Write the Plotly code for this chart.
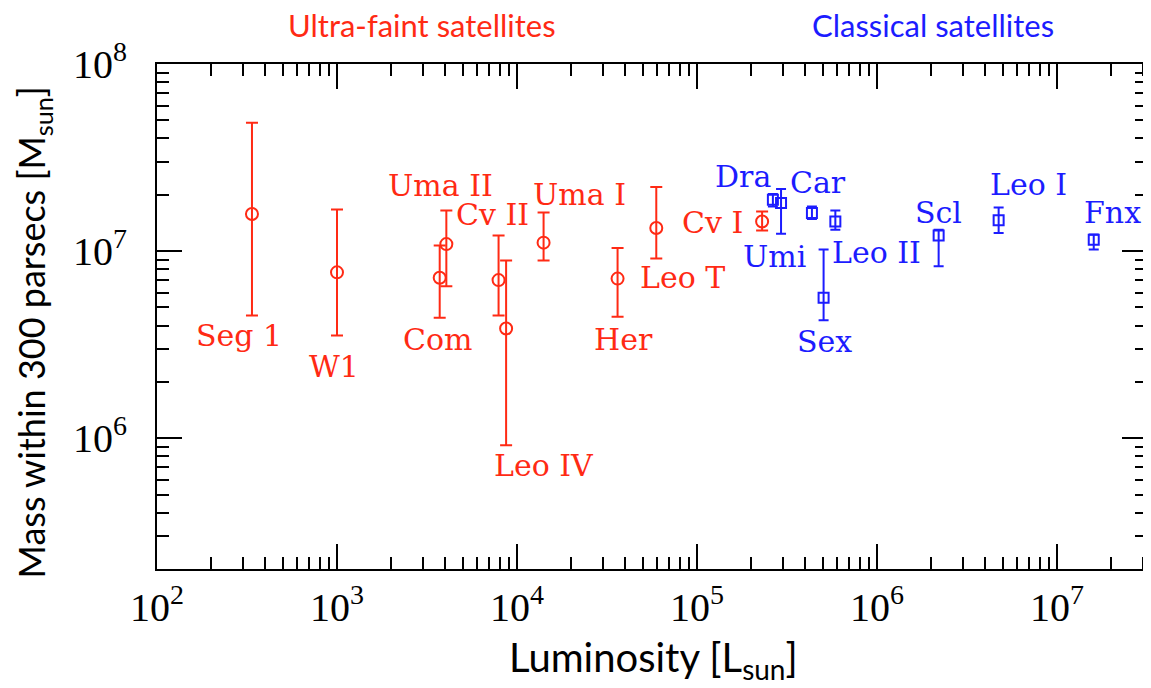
import math
import plotly.graph_objects as go

# Ultra-faint satellites
uf_names = ["Seg 1", "W1", "Com", "Uma II", "Cv II", "Leo IV", "Uma I", "Her", "Leo T", "Cv I"]
uf_lum = [337, 1000, 3720, 4050, 7900, 8700, 14050, 36200, 59400, 230000]
uf_mass = [1.58e7, 7.7e6, 7.2e6, 1.09e7, 7.0e6, 3.86e6, 1.11e7, 7.13e6, 1.33e7, 1.44e7]
uf_mass_hi = [4.86e7, 1.67e7, 1.07e7, 1.65e7, 1.21e7, 8.9e6, 1.61e7, 1.04e7, 2.2e7, 1.63e7]
uf_mass_lo = [4.53e6, 3.54e6, 4.4e6, 6.49e6, 4.53e6, 9.18e5, 8.9e6, 4.46e6, 9.12e6, 1.29e7]

# Classical satellites
cl_names = ["Dra", "Umi", "Car", "Sex", "Leo II", "Scl", "Leo I", "Fnx"]
cl_lum = [2.64e5, 2.93e5, 4.35e5, 5.05e5, 5.87e5, 2.2e6, 4.74e6, 1.6e7]
cl_mass = [1.88e7, 1.81e7, 1.60e7, 5.63e6, 1.44e7, 1.21e7, 1.46e7, 1.15e7]
cl_mass_hi = [2.02e7, 2.15e7, 1.73e7, 1.02e7, 1.65e7, 1.30e7, 1.71e7, 1.225e7]
cl_mass_lo = [1.73e7, 1.24e7, 1.485e7, 4.27e6, 1.30e7, 8.3e6, 1.25e7, 1.02e7]

# label offsets in pixels (dx, dy) relative to each point
uf_offsets = [(-13, -122), (-3, -94), (-2, -62), (-6, 59), (-6, 66), (38, -137),
              (36, 48), (6, -61), (26, -50), (-50, -1)]
cl_offsets = [(-30, 23), (-7, -54), (6, 30), (1, -44), (41, -31), (0, 23), (30, 36), (19, 27)]

RED = "#ff2a14"
BLUE = "#1c1cff"
LABEL_FONT = "DejaVu Serif"
SANS = "Lato"

fig = go.Figure()

fig.add_trace(go.Scatter(
    x=uf_lum, y=uf_mass, mode="markers",
    marker=dict(symbol="circle-open", size=12, color=RED, line=dict(width=2, color=RED)),
    error_y=dict(type="data", symmetric=False,
                 array=[h - m for h, m in zip(uf_mass_hi, uf_mass)],
                 arrayminus=[m - l for m, l in zip(uf_mass, uf_mass_lo)],
                 color=RED, thickness=2, width=6),
    showlegend=False,
))
fig.add_trace(go.Scatter(
    x=cl_lum, y=cl_mass, mode="markers",
    marker=dict(symbol="square-open", size=10, color=BLUE, line=dict(width=2, color=BLUE)),
    error_y=dict(type="data", symmetric=False,
                 array=[h - m for h, m in zip(cl_mass_hi, cl_mass)],
                 arrayminus=[m - l for m, l in zip(cl_mass, cl_mass_lo)],
                 color=BLUE, thickness=2, width=5),
    showlegend=False,
))

annotations = []
for names, lums, masses, offs, col in [
    (uf_names, uf_lum, uf_mass, uf_offsets, RED),
    (cl_names, cl_lum, cl_mass, cl_offsets, BLUE),
]:
    for name, lum, mass, (dx, dy) in zip(names, lums, masses, offs):
        annotations.append(dict(
            x=math.log10(lum), y=math.log10(mass), xref="x", yref="y",
            text=name, showarrow=False, xshift=dx, yshift=dy,
            xanchor="center", yanchor="middle",
            font=dict(family=LABEL_FONT, size=30, color=col),
        ))

annotations.append(dict(text="Ultra-faint satellites", xref="paper", yref="paper",
                        x=0.268, y=1.077, xanchor="center", yanchor="middle",
                        showarrow=False, font=dict(family=SANS, size=31, color=RED)))
annotations.append(dict(text="Classical satellites", xref="paper", yref="paper",
                        x=0.784, y=1.077, xanchor="center", yanchor="middle",
                        showarrow=False, font=dict(family=SANS, size=31, color=BLUE)))

# axis titles
annotations.append(dict(text="Luminosity [L<sub>sun</sub>]", xref="paper", yref="paper",
                        x=0.502, y=-0.18, xanchor="center", yanchor="middle",
                        showarrow=False, font=dict(family=SANS, size=40, color="black")))
annotations.append(dict(text="Mass within 300 parsecs [M<sub>sun</sub>]",
                        xref="paper", yref="paper", textangle=-90,
                        x=-0.125, y=0.469, xanchor="center", yanchor="middle",
                        showarrow=False, font=dict(family=SANS, size=36, color="black")))

minor_x = [m * 10 ** e for e in range(2, 8) for m in range(2, 10)]
minor_y = [m * 10 ** e for e in range(5, 8) for m in range(2, 10)]

axis_common = dict(
    type="log", showgrid=False, zeroline=False, automargin=False,
    showline=True, linewidth=2, linecolor="black", mirror="ticks",
    ticks="inside", ticklen=25, tickwidth=2, tickcolor="black",
    tickfont=dict(family="Liberation Serif", size=40, color="black"),
)

fig.update_xaxes(
    **axis_common,
    range=[2, 7.5],
    ticklabelstandoff=2,
    tickvals=[1e2, 1e3, 1e4, 1e5, 1e6, 1e7],
    ticktext=["10<sup>2</sup>", "10<sup>3</sup>", "10<sup>4</sup>",
              "10<sup>5</sup>", "10<sup>6</sup>", "10<sup>7</sup>"],
    minor=dict(tickvals=minor_x, ticks="inside", ticklen=12, tickwidth=2,
               tickcolor="black", showgrid=False),
)
fig.update_yaxes(
    **axis_common,
    range=[math.log10(2e5), 8],
    ticklabelstandoff=20,
    tickvals=[1e6, 1e7, 1e8],
    ticktext=["10<sup>6</sup>", "10<sup>7</sup>", "10<sup>8</sup>"],
    minor=dict(tickvals=minor_y, ticks="inside", ticklen=12, tickwidth=2,
               tickcolor="black", showgrid=False),
)

# the page adds an 8px body margin, so the figure is 8px smaller than the window
fig.update_layout(
    width=1143, height=680,
    margin=dict(l=149, r=4, t=56, b=119),
    paper_bgcolor="white", plot_bgcolor="white",
    annotations=annotations,
)

fig.write_html("out.html")
